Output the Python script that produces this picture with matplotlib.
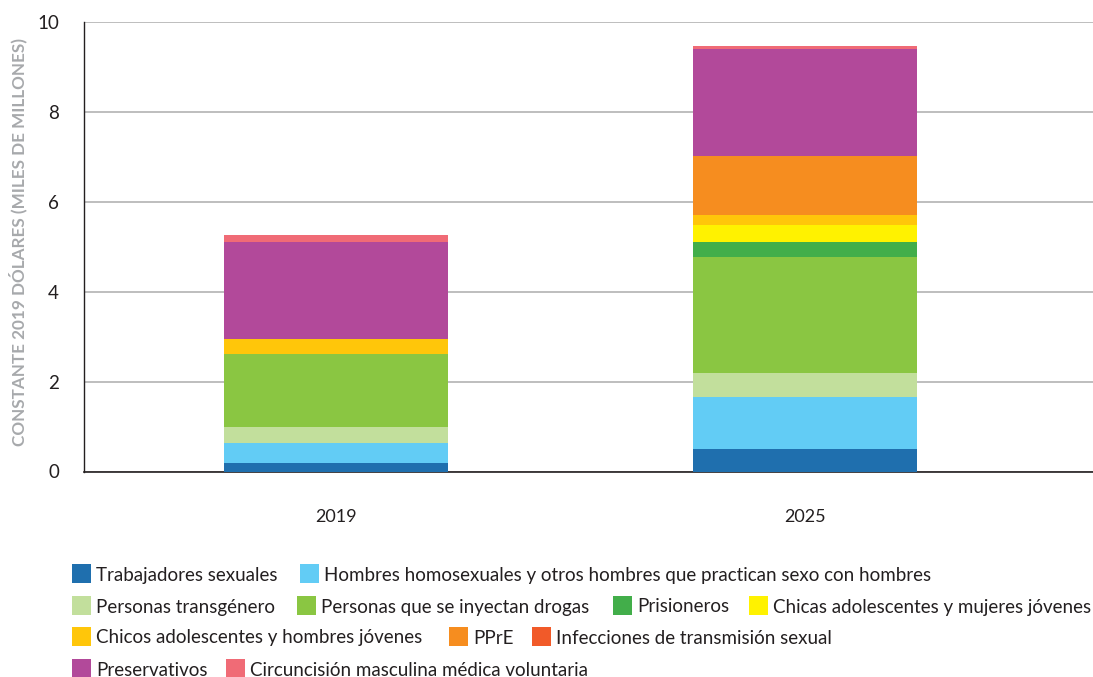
import matplotlib
matplotlib.use("Agg")
import matplotlib.pyplot as plt
from matplotlib.patches import Rectangle

plt.rcParams['font.family'] = ['Lato', 'DejaVu Sans']

years = ['2019', '2025']
categories = [
    'Trabajadores sexuales',
    'Hombres homosexuales y otros hombres que practican sexo con hombres',
    'Personas transgénero',
    'Personas que se inyectan drogas',
    'Prisioneros',
    'Chicas adolescentes y mujeres jóvenes',
    'Chicos adolescentes y hombres jóvenes',
    'PPrE',
    'Infecciones de transmisión sexual',
    'Preservativos',
    'Circuncisión masculina médica voluntaria',
]
values_2019 = [0.19, 0.45, 0.35, 1.63, 0.0, 0.0, 0.32, 0.0, 0.0, 2.16, 0.16]
values_2025 = [0.50, 1.15, 0.55, 2.57, 0.33, 0.38, 0.23, 1.31, 0.0, 2.37, 0.08]
colors = ['#1F6FAE', '#62CCF5', '#C2DF9C', '#8AC642', '#42AE4A', '#FFF200',
          '#FFC60A', '#F68D1F', '#F15A29', '#B2499A', '#F06B76']
yticks = [0, 2, 4, 6, 8, 10]

W, H = 1093, 677
fig = plt.figure(figsize=(W / 100, H / 100), dpi=100)
ax = fig.add_axes([84 / W, (H - 471.5) / H, 1 - 84 / W, (471.5 - 22) / H])

x = [0, 1]
bottoms = [0.0, 0.0]
for cat, v19, v25, col in zip(categories, values_2019, values_2025, colors):
    vals = [v19, v25]
    ax.bar(x, vals, width=0.478, bottom=bottoms, color=col, linewidth=0, zorder=3)
    bottoms = [b + v for b, v in zip(bottoms, vals)]

ax.set_xlim(-0.537, 1.614)
ax.set_ylim(0, 10)
ax.set_yticks(yticks)
ax.set_yticklabels([str(t) for t in yticks], fontsize=13.5, color='#231F20')
ax.set_xticks(x)
ax.set_xticklabels(years, fontsize=13, color='#231F20')
ax.tick_params(axis='y', length=0, pad=18)
ax.tick_params(axis='x', length=0, pad=27)
ax.grid(axis='y', color='#B3B3B3', linewidth=1.2, zorder=0)
ax.set_axisbelow(True)
for side in ['top', 'right']:
    ax.spines[side].set_visible(False)
ax.spines['left'].set_color('#231F20')
ax.spines['bottom'].set_color('#231F20')
ax.spines['left'].set_linewidth(1.0)
ax.spines['bottom'].set_linewidth(1.2)

fig.text(18 / W, (H - 242) / H, 'CONSTANTE 2019 DÓLARES (MILES DE MILLONES)',
         rotation=90, ha='center', va='center', fontsize=12.3,
         color='#A7A9AC', fontweight='bold')

# Legend laid out in rows: (category index, swatch left x in px)
legend_rows = [
    (573, [(0, 72), (1, 300)]),
    (605, [(2, 72), (3, 297), (4, 613), (5, 749)]),
    (636, [(6, 72), (7, 449), (8, 532)]),
    (668, [(9, 72), (10, 226)]),
]
sq = 19
for yc, items in legend_rows:
    for idx, xl in items:
        fig.patches.append(Rectangle((xl / W, (H - yc - sq / 2) / H), sq / W, sq / H,
                                     transform=fig.transFigure, color=colors[idx],
                                     linewidth=0))
        fig.text((xl + sq + 5) / W, (H - yc - 2) / H, categories[idx],
                 ha='left', va='center', fontsize=13.5, color='#231F20')

fig.savefig('out.png', dpi=100)
